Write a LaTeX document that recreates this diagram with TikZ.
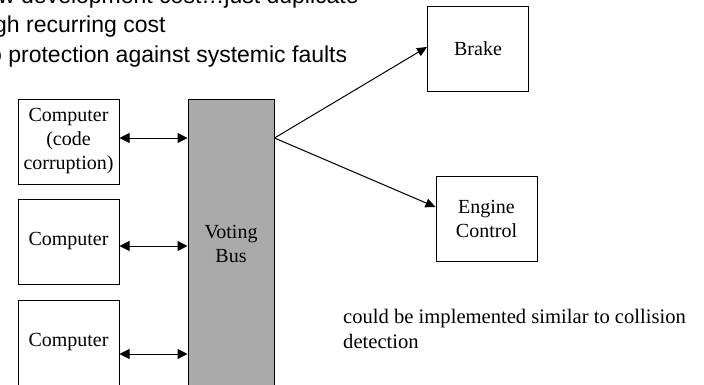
\documentclass[tikz,border=0pt]{standalone}
\usepackage{fontspec}
\setmainfont{Liberation Serif}
\newfontfamily\slidefont{Liberation Sans}
\usepackage{tikz}
\usetikzlibrary{arrows.meta}
\usetikzlibrary{positioning}
\definecolor{busgray}{RGB}{170,170,170}
\tikzset{box/.style={draw=black,line width=1pt,minimum width=101pt,minimum height=85pt,inner sep=0pt,align=center,font=\fontsize{20}{24}\selectfont}}
\tikzset{bus/.style={box,fill=busgray,minimum width=86pt,minimum height=290pt}}
\tikzset{link/.style={{Triangle[length=10pt,width=10pt]}-{Triangle[length=10pt,width=10pt]},line width=1pt}}
\tikzset{arrow/.style={-{Triangle[length=10pt,width=9pt]},line width=1pt}}
\tikzset{bullet/.style={anchor=base west,inner sep=0pt,font=\slidefont\fontsize{23}{28}\selectfont}}
\newcommand{\slideframe}{
    \useasboundingbox (0,0) rectangle (704,384);
    \clip (0,0) rectangle (704,384);
}

\begin{document}
\begin{tikzpicture}[x=1pt,y=1pt]
        \slideframe

        \node[bullet] (low) at (-2,381) {w development cost…just duplicate};
        \node[bullet] (high) at (-6,351.5) {gh recurring cost};
        \node[bullet] (none) at (-11,322) {o protection against systemic faults};

        \node[box] (cpa) at (68.5,242.5) {Computer\\(code\\corruption)};
        \node[box] (cpb) at (68.5,142.5) {Computer};
        \node[box] (cpc) at (68.5,41.5) {Computer};
        \node[bus] (bus) at (231,140) {Voting\\Bus};
        \node[box] (brk) at (478,335) {Brake};
        \node[box] (eng) at (486.5,165) {Engine\\Control};
        \node[anchor=base west,align=left,inner sep=0pt,
            font=\fontsize{20.6}{24.5}\selectfont] (note) at (343,36)
            {could be implemented similar to collision\\detection};

        \coordinate (tap) at ([yshift=106pt]bus.east);

        \draw[link] ([yshift=3.5pt]cpa.east) -- ([yshift=3.5pt]cpa.east -| bus.west);
        \draw[link] ([yshift=-4.5pt]cpb.east) -- ([yshift=-4.5pt]cpb.east -| bus.west);
        \draw[link] ([yshift=-11.5pt]cpc.east) -- ([yshift=-11.5pt]cpc.east -| bus.west);
        \draw[arrow] (tap) -- ([yshift=2pt]brk.west);
        \draw[arrow] (tap) -- ([yshift=12pt]eng.west);
    \end{tikzpicture}
\end{document}
